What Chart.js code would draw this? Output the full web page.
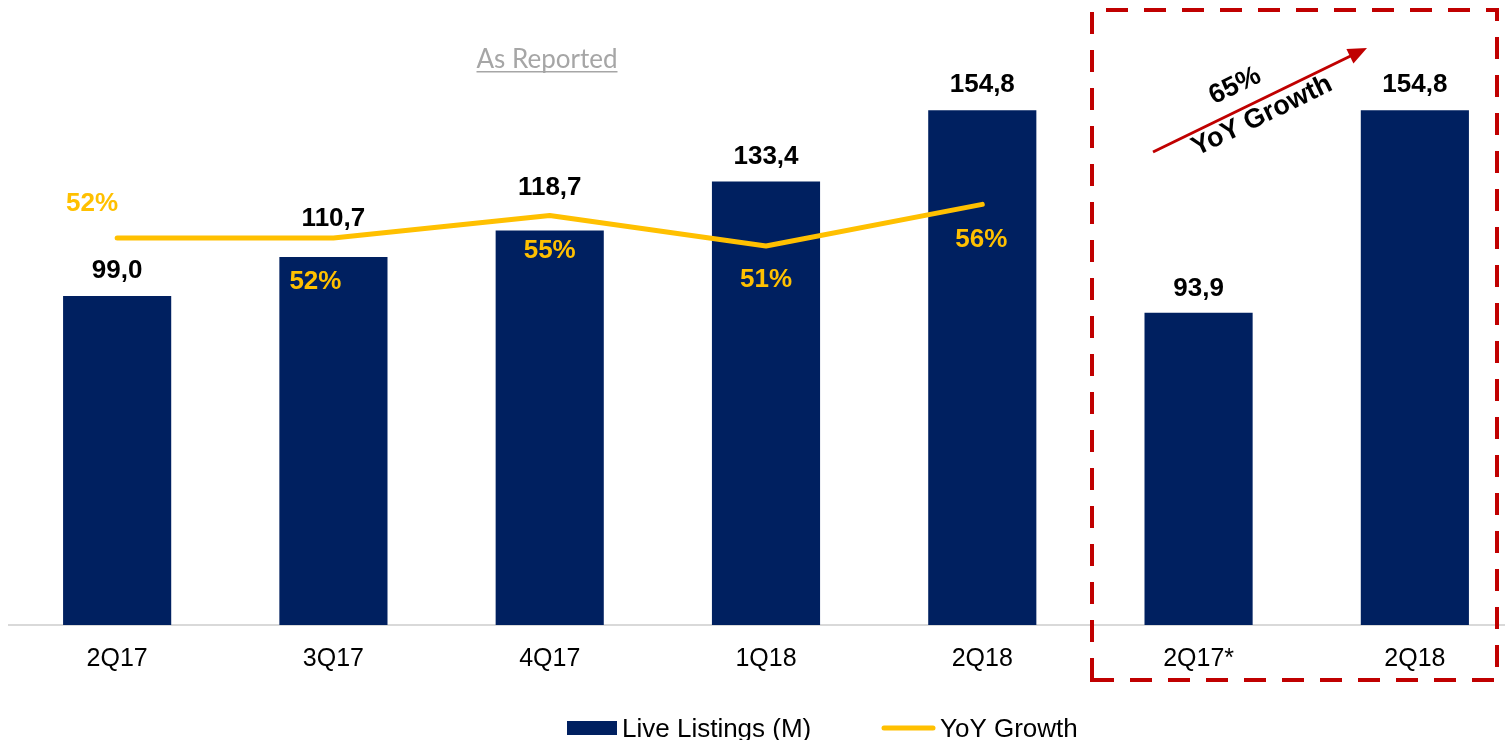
<!DOCTYPE html>
<html>
<head>
<meta charset="utf-8">
<script src="https://cdn.jsdelivr.net/npm/chart.js@4.4.1/dist/chart.umd.min.js"></script>
<style>
  html, body { margin: 0; padding: 0; background: #fff; overflow: hidden; }
  #wrap { width: 1523px; height: 740px; }
</style>
</head>
<body>
<div id="wrap"><canvas id="chart"></canvas></div>
<script>
// quarters on the x axis (last two are the "adjusted" comparison)
const quarters = ['2Q17', '3Q17', '4Q17', '1Q18', '2Q18', '2Q17*', '2Q18'];
const liveListings = [99.0, 110.7, 118.7, 133.4, 154.8, 93.9, 154.8];
const yoyGrowth = [52, 52, 54.8, 51, 56.2, null, null];
const yoyLabels = ['52%', '52%', '55%', '51%', '56%'];
const growthNote = ['65%', 'YoY Growth'];
const seriesNames = ['Live Listings (M)', 'YoY Growth'];

const NAVY = '#002060';
const YELLOW = '#FFC000';
const RED = '#C00000';
const FONT = '"Liberation Sans", Arial, sans-serif';

// how far above the bar top each value label sits
const barLabelLift = [25, 38, 43, 25, 26, 24, 26];
// [dx, dy] of the growth labels from their line point
const pctOffset = [[-25, -34], [-18, 44], [0, 35], [0, 34], [-1, 35]];

function fmt(v) {
    return v.toFixed(1).replace('.', ',');
}

const annotations = {
    id: 'annotations',
    afterDatasetsDraw(chart) {
        const ctx = chart.ctx;
        const bars = chart.getDatasetMeta(1).data;
        const pts = chart.getDatasetMeta(0).data;
        ctx.save();
        ctx.textAlign = 'center';
        ctx.textBaseline = 'middle';
        ctx.font = 'bold 26px ' + FONT;

        // bar values
        ctx.fillStyle = '#000';
        bars.forEach((b, i) => ctx.fillText(fmt(liveListings[i]), b.x, b.y - barLabelLift[i]));

        // growth labels
        ctx.fillStyle = YELLOW;
        yoyLabels.forEach((t, i) => {
            ctx.fillText(t, pts[i].x + pctOffset[i][0], pts[i].y + pctOffset[i][1]);
        });

        // "As Reported" title, underlined
        ctx.font = '26px Lato, sans-serif';
        ctx.fillStyle = '#A6A6A6';
        ctx.fillText('As Reported', 547, 60);
        const w = ctx.measureText('As Reported').width;
        ctx.fillRect(547 - w / 2, 71, w, 1.5);

        // dashed box round the comparison
        ctx.strokeStyle = RED;
        ctx.lineWidth = 4;
        ctx.setLineDash([22, 16]);
        ctx.beginPath();
        ctx.moveTo(1092, 680);
        ctx.lineTo(1092, 10);
        ctx.lineTo(1497, 10);
        ctx.lineTo(1497, 680);
        ctx.closePath();
        ctx.stroke();
        ctx.setLineDash([]);

        // growth arrow
        const x0 = 1153, y0 = 152, x1 = 1367, y1 = 48;
        const ang = Math.atan2(y1 - y0, x1 - x0);
        ctx.lineWidth = 3;
        ctx.beginPath();
        ctx.moveTo(x0, y0);
        ctx.lineTo(x1 - 16 * Math.cos(ang), y1 - 16 * Math.sin(ang));
        ctx.stroke();
        ctx.fillStyle = RED;
        ctx.beginPath();
        ctx.moveTo(x1, y1);
        ctx.lineTo(x1 - 19 * Math.cos(ang) + 8 * Math.sin(ang), y1 - 19 * Math.sin(ang) - 8 * Math.cos(ang));
        ctx.lineTo(x1 - 19 * Math.cos(ang) - 8 * Math.sin(ang), y1 - 19 * Math.sin(ang) + 8 * Math.cos(ang));
        ctx.closePath();
        ctx.fill();

        ctx.fillStyle = '#000';
        ctx.font = 'bold 27px ' + FONT;
        ctx.save();
        ctx.translate(1235, 86);
        ctx.rotate(ang);
        ctx.fillText(growthNote[0], 0, 0);
        ctx.restore();
        ctx.save();
        ctx.translate(1262, 116);
        ctx.rotate(ang);
        ctx.fillText(growthNote[1], 0, 0);
        ctx.restore();

        // legend
        ctx.textAlign = 'left';
        ctx.textBaseline = 'alphabetic';
        ctx.font = '26px ' + FONT;
        ctx.fillStyle = NAVY;
        ctx.fillRect(567, 721, 50, 14);
        ctx.fillStyle = '#000';
        ctx.fillText(seriesNames[0], 622, 737);
        ctx.strokeStyle = YELLOW;
        ctx.lineWidth = 5;
        ctx.lineCap = 'round';
        ctx.beginPath();
        ctx.moveTo(884, 728);
        ctx.lineTo(933, 728);
        ctx.stroke();
        ctx.fillText(seriesNames[1], 940, 737);
        ctx.restore();
    }
};

new Chart(document.getElementById('chart'), {
    type: 'bar',
    data: {
        labels: quarters,
        datasets: [
            {
                type: 'line',
                label: seriesNames[1],
                data: yoyGrowth,
                borderColor: YELLOW,
                borderWidth: 5,
                borderCapStyle: 'round',
                borderJoinStyle: 'round',
                pointRadius: 0,
                tension: 0,
                yAxisID: 'y1',
                order: 0
            },
            {
                label: seriesNames[0],
                data: liveListings,
                backgroundColor: NAVY,
                barPercentage: 0.5,
                categoryPercentage: 1,
                yAxisID: 'y',
                order: 1
            }
        ]
    },
    options: {
        responsive: true,
        maintainAspectRatio: false,
        animation: false,
        layout: {
            padding: { left: 9, right: 0, top: 0, bottom: 47 }
        },
        scales: {
            x: {
                grid: { display: false, drawTicks: false },
                border: { display: true, color: '#D9D9D9', width: 2 },
                ticks: {
                    color: '#000',
                    font: { family: FONT, size: 25 },
                    padding: 19,
                    maxRotation: 0,
                    autoSkip: false
                }
            },
            y: { display: false, min: 0, max: 188 },
            y1: { display: false, min: 3.625, max: 81.75 }
        },
        plugins: {
            legend: { display: false },
            tooltip: { enabled: false }
        }
    },
    plugins: [annotations]
});
</script>
</body>
</html>
